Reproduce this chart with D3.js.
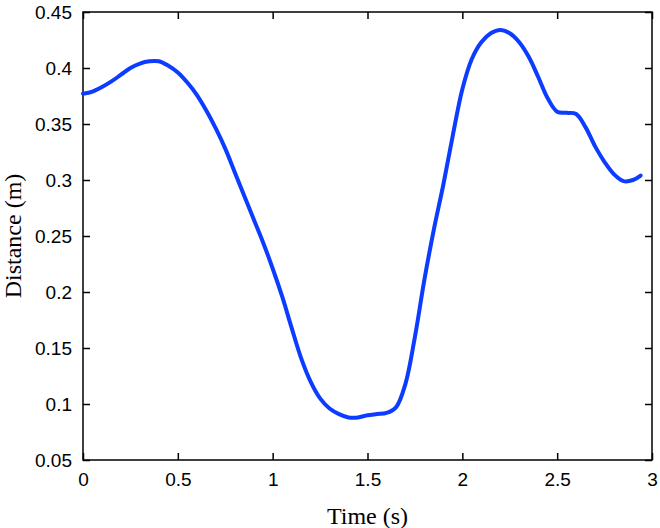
<!DOCTYPE html>
<html>
<head>
<meta charset="utf-8">
<script src="https://cdn.jsdelivr.net/npm/d3@7"></script>
<style>
  body { margin: 0; background: #fff; }
  .tick text { font-family: "Liberation Sans", Arial, sans-serif; font-size: 19px; fill: #000; }
  .title { font-family: "Liberation Serif", "Times New Roman", serif; font-size: 24px; fill: #000; }
</style>
</head>
<body>
<div id="chart"></div>
<script>
// time (s) and distance (m)
const timeValues = [0, 0.05, 0.1, 0.15, 0.2, 0.25, 0.3, 0.35, 0.4, 0.45, 0.5, 0.55, 0.6, 0.65, 0.7, 0.75,
  0.8, 0.85, 0.9, 0.95, 1.0, 1.05, 1.1, 1.15, 1.2, 1.25, 1.3, 1.35, 1.4, 1.45, 1.5, 1.55, 1.6, 1.65,
  1.7, 1.75, 1.8, 1.85, 1.9, 1.95, 2.0, 2.05, 2.1, 2.15, 2.2, 2.25, 2.3, 2.35, 2.4, 2.45, 2.5, 2.55,
  2.6, 2.65, 2.7, 2.75, 2.8, 2.85, 2.9, 2.94];
const distanceValues = [0.377, 0.379, 0.383, 0.388, 0.394, 0.400, 0.404, 0.406, 0.406, 0.402, 0.396,
  0.387, 0.376, 0.362, 0.346, 0.328, 0.307, 0.286, 0.265, 0.244, 0.221, 0.196, 0.168, 0.141, 0.120,
  0.105, 0.096, 0.091, 0.088, 0.088, 0.090, 0.091, 0.092, 0.097, 0.118, 0.160, 0.211, 0.256, 0.296,
  0.340, 0.381, 0.408, 0.423, 0.431, 0.434, 0.431, 0.423, 0.410, 0.392, 0.373, 0.361, 0.360, 0.359,
  0.347, 0.330, 0.316, 0.305, 0.299, 0.300, 0.304];
const xTicks = [0, 0.5, 1, 1.5, 2, 2.5, 3];
const yTicks = [0.05, 0.1, 0.15, 0.2, 0.25, 0.3, 0.35, 0.4, 0.45];

const data = timeValues.map((t, i) => ({ t: t, d: distanceValues[i] }));

const width = 660, height = 528;
const margin = { top: 12, right: 8, bottom: 68, left: 83 };

const x = d3.scaleLinear().domain([0, 3]).range([margin.left, width - margin.right]);
const y = d3.scaleLinear().domain([0.05, 0.45]).range([height - margin.bottom, margin.top]);

const svg = d3.select("#chart").append("svg")
  .attr("width", width)
  .attr("height", height);

const fmt = d => String(d);

// bottom axis, ticks pointing inward
svg.append("g")
  .attr("transform", `translate(0,${y(0.05)})`)
  .call(d3.axisBottom(x).tickValues(xTicks).tickFormat(fmt).tickSizeInner(-7).tickSizeOuter(0).tickPadding(13))
  .call(g => g.select(".domain").remove());

// top axis, ticks only
svg.append("g")
  .attr("transform", `translate(0,${y(0.45)})`)
  .call(d3.axisTop(x).tickValues(xTicks).tickFormat("").tickSizeInner(-7).tickSizeOuter(0))
  .call(g => g.select(".domain").remove());

svg.append("g")
  .attr("transform", `translate(${x(0)},0)`)
  .call(d3.axisLeft(y).tickValues(yTicks).tickFormat(fmt).tickSizeInner(-7).tickSizeOuter(0).tickPadding(11))
  .call(g => g.select(".domain").remove());

svg.append("g")
  .attr("transform", `translate(${x(3)},0)`)
  .call(d3.axisRight(y).tickValues(yTicks).tickFormat("").tickSizeInner(-7).tickSizeOuter(0))
  .call(g => g.select(".domain").remove());

svg.selectAll(".tick line").attr("stroke", "#000").attr("stroke-width", 1.5);

// box
svg.append("rect")
  .attr("x", x(0))
  .attr("y", y(0.45))
  .attr("width", x(3) - x(0))
  .attr("height", y(0.05) - y(0.45))
  .attr("fill", "none")
  .attr("stroke", "#000")
  .attr("stroke-width", 1.5);

const line = d3.line()
  .x(d => x(d.t))
  .y(d => y(d.d))
  .curve(d3.curveCatmullRom.alpha(0.5));

svg.append("path")
  .datum(data)
  .attr("d", line)
  .attr("fill", "none")
  .attr("stroke", "#0b3cff")
  .attr("stroke-width", 4)
  .attr("stroke-linejoin", "round")
  .attr("stroke-linecap", "round");

svg.append("text")
  .attr("class", "title")
  .attr("x", (x(0) + x(3)) / 2)
  .attr("y", 524)
  .attr("text-anchor", "middle")
  .text("Time (s)");

svg.append("text")
  .attr("class", "title")
  .attr("transform", `translate(21,${(y(0.05) + y(0.45)) / 2}) rotate(-90)`)
  .attr("text-anchor", "middle")
  .text("Distance (m)");
</script>
</body>
</html>
